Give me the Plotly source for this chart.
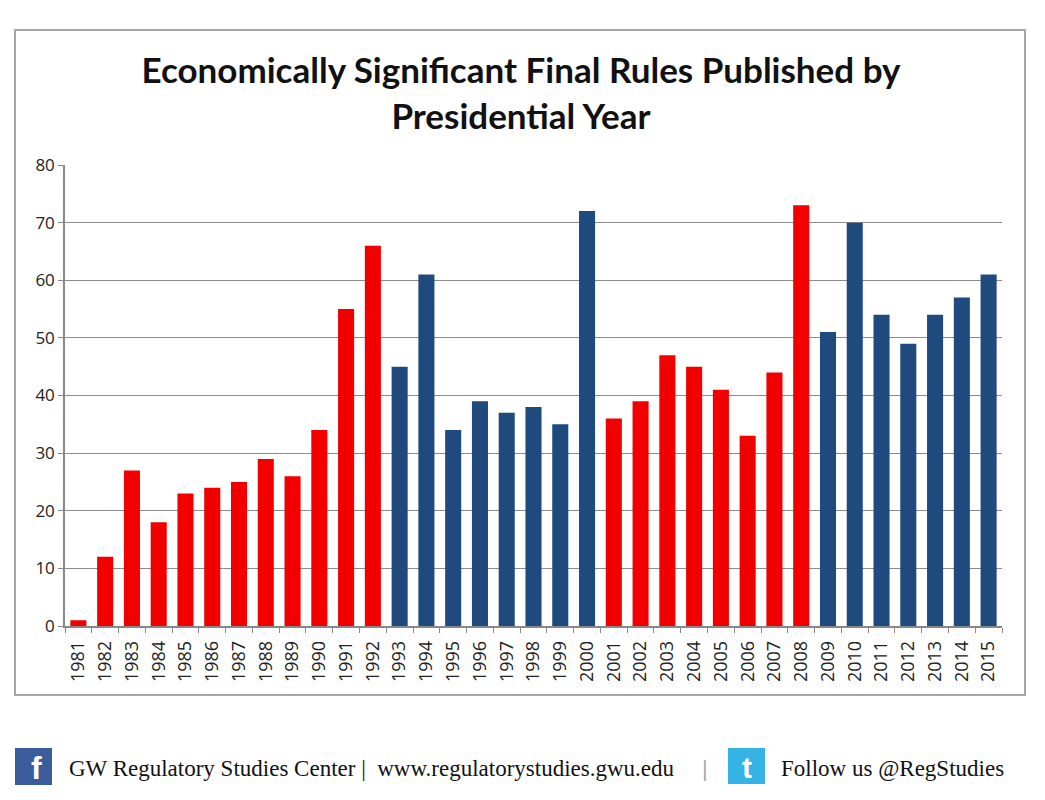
import plotly.graph_objects as go

# Data
years = [str(y) for y in range(1981, 2016)]
rules = [1, 12, 27, 18, 23, 24, 25, 29, 26, 34, 55, 66,
         45, 61, 34, 39, 37, 38, 35, 72,
         36, 39, 47, 45, 41, 33, 44, 73,
         51, 70, 54, 49, 54, 57, 61]
party = ["R"] * 12 + ["D"] * 8 + ["R"] * 8 + ["D"] * 7

party_colors = {"R": "#f20000", "D": "#1f4a7e"}
bar_colors = [party_colors[p] for p in party]

W, H = 1045, 800
OFF = 8  # page body margin
L, R, T, B = 65, 1002, 165, 626   # plot area in screen pixels


def px(x):
    return (x - L) / (R - L)


def py(y):
    return (B - y) / (B - T)


fig = go.Figure()
fig.add_trace(go.Bar(
    x=years,
    y=rules,
    marker=dict(color=bar_colors, line=dict(width=0)),
    showlegend=False,
))

shapes = [
    # outer frame
    dict(type="rect", xref="paper", yref="paper",
         x0=px(15), x1=px(1025), y0=py(695), y1=py(30),
         line=dict(color="#a6a6a6", width=2), fillcolor="rgba(0,0,0,0)", layer="below"),
    # facebook icon
    dict(type="rect", xref="paper", yref="paper",
         x0=px(15), x1=px(52), y0=py(785), y1=py(748),
         line=dict(width=0), fillcolor="#3b5b9a"),
    # twitter icon
    dict(type="rect", xref="paper", yref="paper",
         x0=px(728), x1=px(765), y0=py(784), y1=py(748),
         line=dict(width=0), fillcolor="#34b3e4"),
]

footer_font = dict(family="Liberation Serif", size=23, color="#111111")
annotations = [
    dict(text="<b>f</b>", x=px(36), y=py(768), xref="paper", yref="paper",
         showarrow=False, font=dict(family="Liberation Sans", size=32, color="white"),
         xanchor="center", yanchor="middle"),
    dict(text="<b>t</b>", x=px(747), y=py(767), xref="paper", yref="paper",
         showarrow=False, font=dict(family="Liberation Sans", size=30, color="white"),
         xanchor="center", yanchor="middle"),
    dict(text="GW Regulatory Studies Center |  www.regulatorystudies.gwu.edu",
         x=px(67), y=py(768), xref="paper", yref="paper", showarrow=False,
         font=footer_font, xanchor="left", yanchor="middle"),
    dict(text="|", x=px(705), y=py(768), xref="paper", yref="paper", showarrow=False,
         font=dict(family="Liberation Sans", size=22, color="#aaaaaa"),
         xanchor="center", yanchor="middle"),
    dict(text="Follow us @RegStudies",
         x=px(779), y=py(768), xref="paper", yref="paper", showarrow=False,
         font=footer_font, xanchor="left", yanchor="middle"),
]

fig.update_layout(
    width=W, height=H,
    margin=dict(l=L - OFF, r=W - R + OFF, t=T - OFF, b=H - B + OFF, pad=0),
    paper_bgcolor="white",
    plot_bgcolor="white",
    bargap=0.4,
    title=dict(
        text="<b>Economically Significant Final Rules Published by<br>Presidential Year</b>",
        x=(521 - OFF) / W, xref="container", xanchor="center",
        y=1 - (83 - OFF) / H, yref="container", yanchor="top",
        font=dict(family="Lato", size=35, color="#111111"),
    ),
    xaxis=dict(
        type="category",
        tickangle=-90,
        ticks="outside", tickson="boundaries", ticklen=5, tickcolor="#888888",
        ticklabelstandoff=6,
        showline=True, linecolor="#888888", linewidth=1.5,
        showgrid=False,
        tickfont=dict(family="Open Sans", size=18, color="#222222"),
    ),
    yaxis=dict(
        range=[0, 80], dtick=10,
        ticks="outside", ticklen=5, tickcolor="#888888",
        showline=True, linecolor="#888888", linewidth=1.5,
        showgrid=True, gridcolor="#8c8c8c", gridwidth=1.2,
        zeroline=False,
        tickfont=dict(family="Open Sans", size=17, color="#222222"),
    ),
    shapes=shapes,
    annotations=annotations,
)

fig.write_html("out.html")
